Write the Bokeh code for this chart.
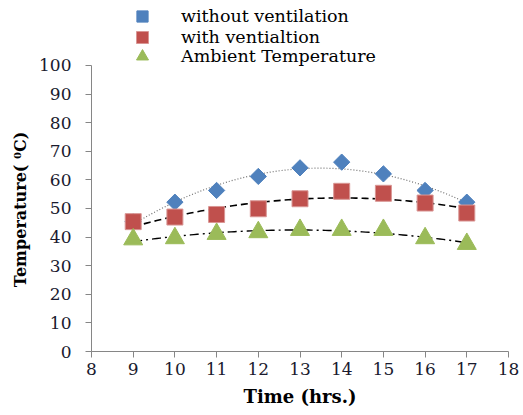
import numpy as np
from bokeh.plotting import figure
from bokeh.models import Legend, LegendItem, Range1d, FixedTicker
from bokeh.embed import file_html
from bokeh.resources import INLINE

hours = [9, 10, 11, 12, 13, 14, 15, 16, 17]
without_vent = [45.4, 52.2, 56.3, 61.2, 64.2, 66.2, 62.1, 56.3, 52.2]
with_vent = [45.4, 47.0, 47.9, 49.9, 53.4, 56.0, 55.3, 51.9, 48.4]
ambient = [39.2, 39.6, 41.1, 41.7, 42.5, 42.5, 42.5, 39.6, 37.6]
series_labels = ["without ventilation", "with ventialtion", "Ambient Temperature"]
x_ticks = list(range(8, 19))
y_ticks = list(range(0, 101, 10))

BLUE = "#4F81BD"
RED = "#C0504D"
GREEN = "#9BBB59"
FONT = "DejaVu Serif"

# frame spans from the top of the canvas so the legend (inside it) is not clipped;
# the y axis line is bounded to 0..100
p = figure(width=523, height=415, output_backend="svg", toolbar_location=None,
           x_range=Range1d(8, 18), y_range=Range1d(0, 122.7),
           min_border_left=91, min_border_right=15, min_border_top=0, min_border_bottom=64)
p.outline_line_color = None
p.xgrid.visible = False
p.ygrid.visible = False
p.background_fill_color = "white"

xs = np.linspace(9, 17, 100)
def fit(vals):
    c = np.polyfit(hours, vals, 2)
    return np.polyval(c, xs)

p.line(xs, fit(without_vent), line_color="#707070", line_width=1.2, line_dash="1 2")
p.line(xs, fit(with_vent), line_color="black", line_width=1.6, line_dash="7 4")
p.line(xs, fit(ambient), line_color="black", line_width=1.4, line_dash="9 4 2 4")

r1 = p.scatter(hours, without_vent, marker="square", angle=np.pi / 4, size=11.5,
               fill_color=BLUE, line_color=BLUE)
r2 = p.scatter(hours, with_vent, marker="square", size=16,
               fill_color=RED, line_color="#D99694", line_width=1)
r3 = p.scatter(hours, ambient, marker="triangle", size=19,
               fill_color=GREEN, line_color=GREEN)

# one legend per row so that the legend markers can be larger than the row pitch
for label, rend, ypos, gh in zip(series_labels, [r1, r2, r3], [320, 299, 280], [28, 30, 30]):
    off = (30 - gh) // 2
    lg = Legend(items=[LegendItem(label=label, renderers=[rend])],
                location=(36 + off, ypos + off))
    lg.padding = 0
    lg.margin = 0
    lg.spacing = 0
    lg.glyph_height = gh
    lg.glyph_width = gh
    lg.label_height = gh
    lg.label_standoff = 24 + off
    lg.border_line_color = None
    lg.background_fill_alpha = 0
    lg.label_text_font = FONT
    lg.label_text_font_size = "17.5px"
    lg.label_text_color = "black"
    p.add_layout(lg, "center")

for ax in (p.xaxis, p.yaxis):
    ax.axis_line_color = "#868686"
    ax.major_tick_line_color = "#868686"
    ax.major_tick_in = 0
    ax.major_tick_out = 6
    ax.minor_tick_line_color = None
    ax.major_label_text_font = FONT
    ax.major_label_text_font_size = "17px"
    ax.major_label_text_color = "#1a1a2e"
    ax.axis_label_text_font = FONT
    ax.axis_label_text_font_style = "bold"
    ax.axis_label_text_color = "black"

p.yaxis.bounds = (0, 100)
p.xaxis.axis_label_text_font_size = "18px"
p.yaxis.axis_label_text_font_size = "16px"
p.xaxis.ticker = FixedTicker(ticks=x_ticks)
p.yaxis.ticker = FixedTicker(ticks=y_ticks)
p.xaxis.axis_label = "Time (hrs.)"
# trailing no-break spaces push the centred label down to the middle of the 0..100 axis
p.yaxis.axis_label = "Temperature( \u2070C)" + "\u00a0" * 12
p.xaxis.major_label_standoff = 5
p.yaxis.major_label_standoff = 14
p.xaxis.axis_label_standoff = 8
p.yaxis.axis_label_standoff = 6

open("out.html", "w").write(file_html(p, INLINE))
